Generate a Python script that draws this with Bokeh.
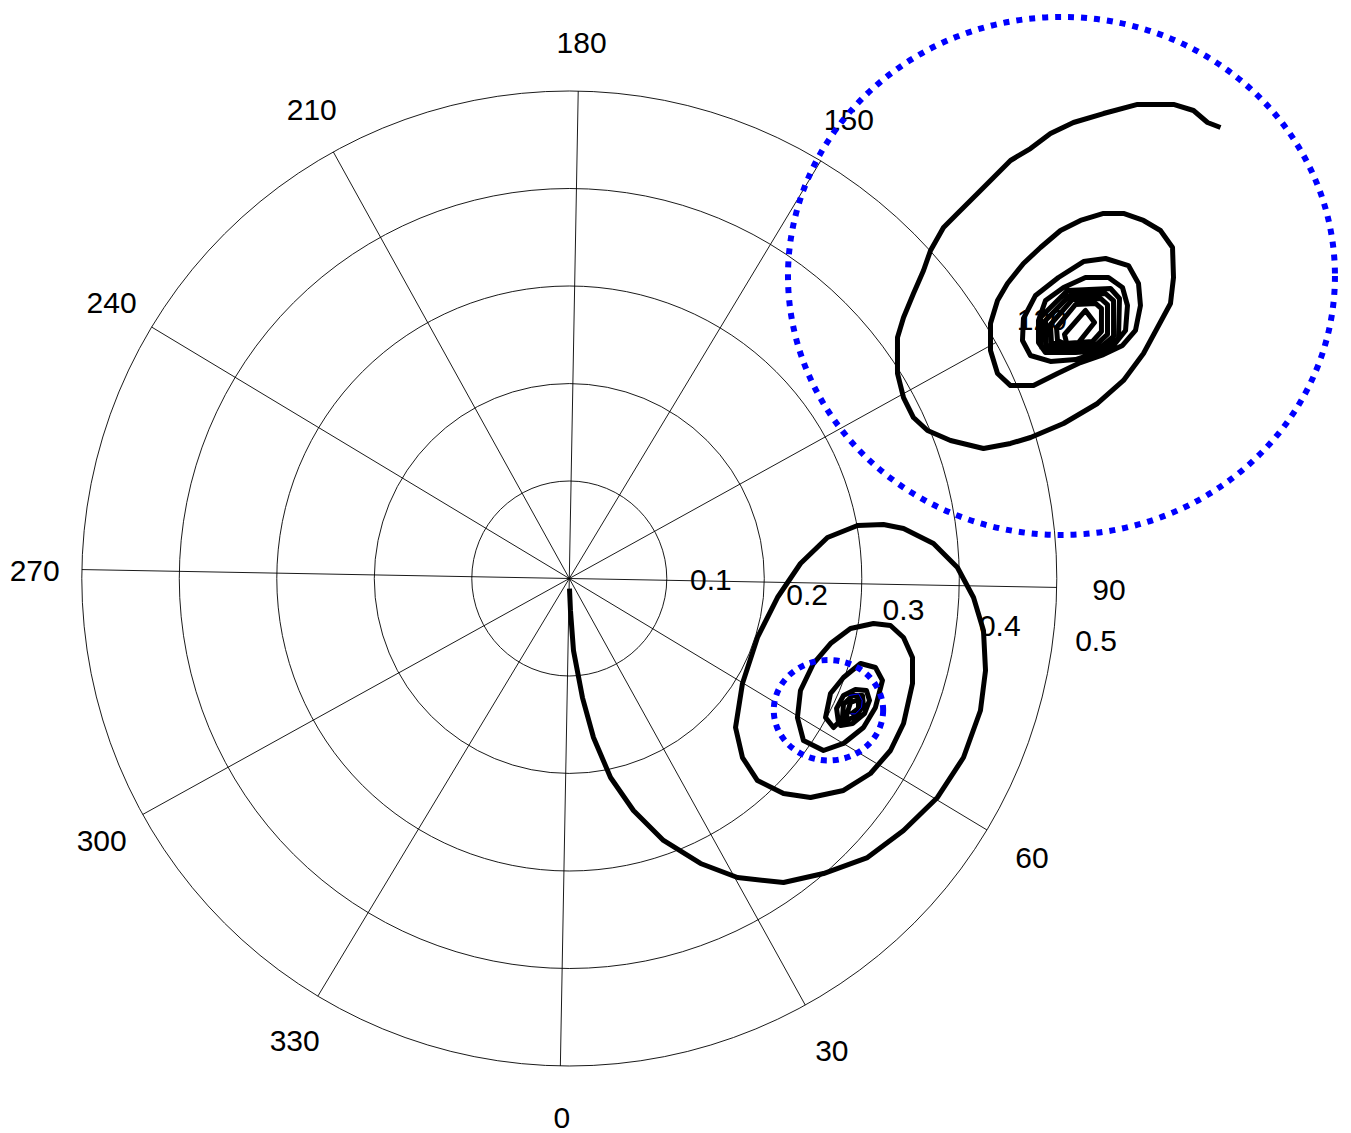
import math
from bokeh.plotting import figure
from bokeh.models import Range1d
from bokeh.embed import file_html
from bokeh.resources import INLINE
from bokeh.core.properties import value

# ---------------- data ----------------
ring_values = [0.1, 0.2, 0.3, 0.4, 0.5]
ring_labels = ["0.1", "0.2", "0.3", "0.4", "0.5"]
spoke_angles = [0, 30, 60, 90, 120, 150]
angle_ticks = [0, 30, 60, 90, 120, 150, 180, 210, 240, 270, 300, 330]
angle_labels = ["0", "30", "60", "90", "120", "150", "180", "210", "240", "270", "300", "330"]

# trajectory 1 (starts at origin, spirals into lower focus)
lower_x = [0.0002, 0.0012, 0.0043, 0.0135, 0.0248, 0.0423, 0.0658, 0.0966, 0.1346, 0.1725,
           0.2197, 0.2607, 0.3058, 0.3428, 0.3776, 0.4043, 0.4217, 0.4269, 0.4248, 0.4146,
           0.3981, 0.3735, 0.3428, 0.3222, 0.2956, 0.2648, 0.2371, 0.2135, 0.1930, 0.1776,
           0.1705, 0.1776, 0.1930, 0.2197, 0.2474, 0.2812, 0.3089, 0.3294, 0.3428, 0.3520,
           0.3520, 0.3428, 0.3294, 0.3120, 0.2884, 0.2679, 0.2504, 0.2371, 0.2340, 0.2402,
           0.2607, 0.2812, 0.3017, 0.3140, 0.3212, 0.3140, 0.2987, 0.2812, 0.2679, 0.2628,
           0.2710, 0.2761, 0.2741, 0.2812, 0.2935, 0.3048, 0.3079, 0.3028, 0.2905, 0.2782,
           0.2802, 0.2812, 0.2905, 0.3007, 0.3017, 0.2935, 0.2833, 0.2853, 0.2884, 0.2966,
           0.2966, 0.2884]
lower_y = [-0.0103, -0.0328, -0.0738, -0.1221, -0.1631, -0.2041, -0.2379, -0.2687, -0.2923, -0.3067,
           -0.3118, -0.3026, -0.2862, -0.2585, -0.2246, -0.1836, -0.1354, -0.0944, -0.0533, -0.0195,
           0.0113, 0.0359, 0.0513, 0.0554, 0.0544, 0.0421, 0.0154, -0.0195, -0.0605, -0.1077,
           -0.1528, -0.1836, -0.2072, -0.2205, -0.2246, -0.2174, -0.2000, -0.1764, -0.1487, -0.1077,
           -0.0810, -0.0605, -0.0482, -0.0462, -0.0513, -0.0667, -0.0872, -0.1149, -0.1426, -0.1662,
           -0.1764, -0.1692, -0.1528, -0.1323, -0.1046, -0.0913, -0.0872, -0.1015, -0.1179, -0.1426,
           -0.1528, -0.1477, -0.1333, -0.1200, -0.1138, -0.1149, -0.1251, -0.1385, -0.1487, -0.1508,
           -0.1426, -0.1292, -0.1200, -0.1200, -0.1303, -0.1415, -0.1456, -0.1374, -0.1272, -0.1241,
           -0.1333, -0.1395]

# trajectory 2 (enters from outside, spirals into upper focus)
upper_x = [0.6679, 0.6546, 0.6402, 0.6197, 0.5828, 0.5479, 0.5171, 0.4935, 0.4730, 0.4525,
           0.4351, 0.4187, 0.3981, 0.3838, 0.3705, 0.3633, 0.3530, 0.3428, 0.3366, 0.3366,
           0.3428, 0.3530, 0.3674, 0.3910, 0.4248, 0.4525, 0.4730, 0.5069, 0.5417, 0.5684,
           0.5889, 0.6033, 0.6166, 0.6197, 0.6187, 0.6063, 0.5889, 0.5684, 0.5479, 0.5243,
           0.5038, 0.4833, 0.4658, 0.4494, 0.4392, 0.4320, 0.4320, 0.4392, 0.4525, 0.4761,
           0.5007, 0.5243, 0.5479, 0.5674, 0.5807, 0.5858, 0.5838, 0.5735, 0.5500, 0.5274,
           0.5017, 0.4782, 0.4658, 0.4648, 0.4730, 0.4935, 0.5192, 0.5417, 0.5582, 0.5705,
           0.5725, 0.5674, 0.5530, 0.5294, 0.5069, 0.4884, 0.4812, 0.4812, 0.4884, 0.5192,
           0.5479, 0.5633, 0.5643, 0.5551, 0.5110, 0.4833, 0.4843, 0.5038, 0.5448, 0.5582,
           0.5582, 0.5500, 0.5130, 0.4884, 0.4894, 0.5058, 0.5407, 0.5520, 0.5520, 0.5448,
           0.5161, 0.4935, 0.4946, 0.5079, 0.5366, 0.5458, 0.5458, 0.5397, 0.5192, 0.4997,
           0.5007, 0.5120, 0.5182, 0.5387, 0.5294, 0.5079, 0.5099]
upper_y = [0.4626, 0.4677, 0.4800, 0.4862, 0.4862, 0.4769, 0.4677, 0.4564, 0.4410, 0.4287,
           0.4113, 0.3949, 0.3744, 0.3600, 0.3364, 0.3159, 0.2923, 0.2677, 0.2472, 0.2103,
           0.1856, 0.1651, 0.1518, 0.1415, 0.1333, 0.1385, 0.1446, 0.1590, 0.1795, 0.2031,
           0.2308, 0.2574, 0.2821, 0.3087, 0.3395, 0.3569, 0.3672, 0.3744, 0.3744, 0.3672,
           0.3569, 0.3395, 0.3231, 0.3026, 0.2851, 0.2615, 0.2338, 0.2103, 0.1979, 0.1979,
           0.2103, 0.2215, 0.2297, 0.2390, 0.2544, 0.2800, 0.3026, 0.3210, 0.3282, 0.3251,
           0.3087, 0.2903, 0.2667, 0.2441, 0.2287, 0.2226, 0.2246, 0.2318, 0.2390, 0.2544,
           0.2800, 0.2985, 0.3087, 0.3087, 0.2985, 0.2851, 0.2646, 0.2421, 0.2318, 0.2318,
           0.2338, 0.2462, 0.2872, 0.2974, 0.2954, 0.2677, 0.2369, 0.2349, 0.2369, 0.2482,
           0.2851, 0.2923, 0.2903, 0.2646, 0.2390, 0.2379, 0.2400, 0.2503, 0.2810, 0.2872,
           0.2862, 0.2605, 0.2410, 0.2410, 0.2431, 0.2533, 0.2769, 0.2821, 0.2810, 0.2574,
           0.2441, 0.2390, 0.2369, 0.2626, 0.2749, 0.2503, 0.2421]

# thin blue trace at the lower focus
core_x = [0.2867, 0.2969, 0.3004, 0.2997, 0.2969, 0.2935, 0.2884]
core_y = [-0.1200, -0.1183, -0.1251, -0.1320, -0.1354, -0.1388, -0.1388]

# dotted blue highlight ellipses (centre x, centre y, width, height)
mark_cx = [0.5048, 0.2658]
mark_cy = [0.3103, -0.1351]
mark_w = [0.5610, 0.1122]
mark_h = [0.5313, 0.1032]
mark_dash = ["6 7", "6 6"]

# ---------------- figure ----------------
ROT = -1.05          # slight rotation of the polar frame (degrees)
RMAX = 0.5


def phi(theta_deg):
    return math.radians(theta_deg - 90.0 + ROT)


p = figure(width=1351, height=1133, output_backend="svg", toolbar_location=None,
           x_range=Range1d(-0.58338, 0.80226), y_range=Range1d(-0.56923, 0.59282),
           x_axis_type=None, y_axis_type=None, min_border=0)
p.outline_line_color = None
p.grid.visible = False
p.background_fill_color = "white"

FONT = value("Liberation Sans")

# rings
p.circle(x=[0.0] * len(ring_values), y=[0.0] * len(ring_values), radius=ring_values,
         fill_color=None, line_color="black", line_width=0.9)

# spokes
sx0 = [-RMAX * math.cos(phi(a)) for a in spoke_angles]
sy0 = [-RMAX * math.sin(phi(a)) for a in spoke_angles]
sx1 = [RMAX * math.cos(phi(a)) for a in spoke_angles]
sy1 = [RMAX * math.sin(phi(a)) for a in spoke_angles]
p.segment(x0=sx0, y0=sy0, x1=sx1, y1=sy1, line_color="black", line_width=0.9)

# angle labels
LR = 0.551
p.text(x=[LR * math.cos(phi(a)) for a in angle_ticks],
       y=[LR * math.sin(phi(a)) for a in angle_ticks],
       text=angle_labels, text_font=FONT, text_font_size="30px", text_color="black",
       text_align="center", text_baseline="middle", x_offset=2.5, y_offset=2)

# ring labels (along the 82 degree ray)
p.text(x=[(r + 0.005) * math.cos(phi(82)) for r in ring_values],
       y=[(r + 0.005) * math.sin(phi(82)) for r in ring_values],
       text=ring_labels, text_font=FONT, text_font_size="30px", text_color="black",
       text_align="center", text_baseline="middle", x_offset=40.5, y_offset=-15)

# trajectories
p.line(lower_x, lower_y, line_color="black", line_width=5, line_join="round")
p.line(upper_x, upper_y, line_color="black", line_width=5, line_join="round")
p.line(core_x, core_y, line_color="blue", line_width=1)

# dotted highlight ellipses
for i in range(len(mark_cx)):
    p.ellipse(x=[mark_cx[i]], y=[mark_cy[i]], width=[mark_w[i]], height=[mark_h[i]],
              fill_color=None, line_color="blue", line_width=6, line_dash=mark_dash[i])

open("out.html", "w").write(file_html(p, INLINE))
